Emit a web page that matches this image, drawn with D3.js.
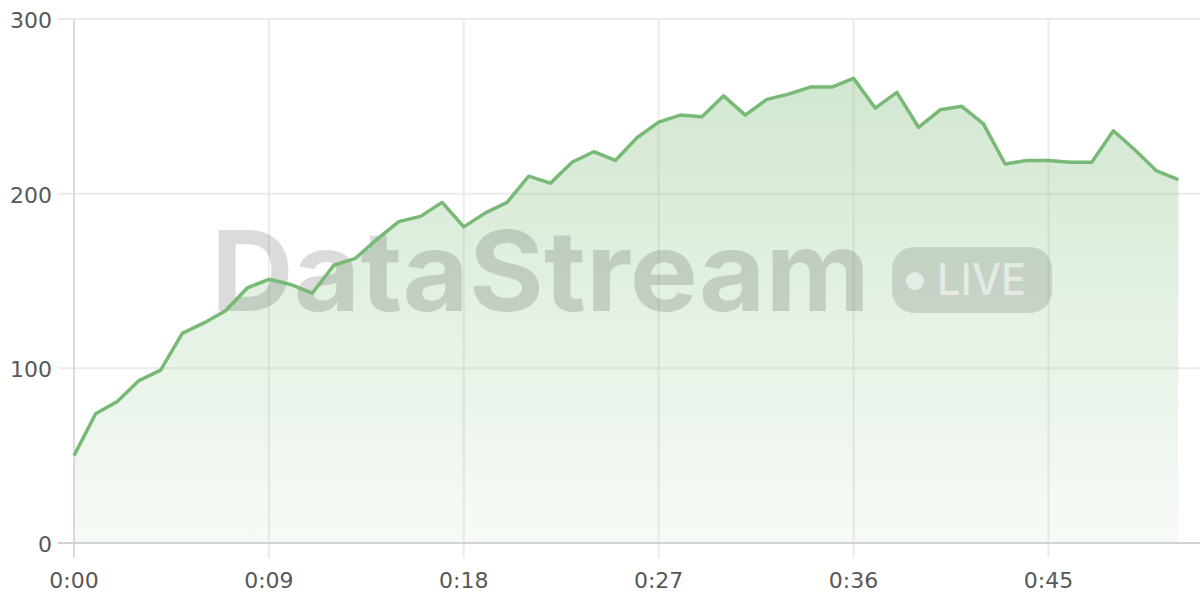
<!DOCTYPE html>
<html>
<head>
<meta charset="utf-8">
<script src="https://cdn.jsdelivr.net/npm/d3@7"></script>
<style>
  body { margin: 0; background: #fff; }
  svg { display: block; }
  .tick-label { font-family: "DejaVu Sans", sans-serif; font-size: 22px; fill: #585858; }
</style>
</head>
<body>
<div id="chart"></div>
<script>
let totalWidth = 1200
let totalHeight = 600
let margin = {top: 19, right: 0, bottom: 57, left: 74}

// seconds since start, one reading per second
let seconds = d3.range(0, 52)
let values = [
    50, 74, 81, 93, 99, 120, 126, 133, 146, 151,
    148, 143, 159, 163, 174, 184, 187, 195, 181, 189,
    195, 210, 206, 218, 224, 219, 232, 241, 245, 244,
    256, 245, 254, 257, 261, 261, 266, 249, 258, 238,
    248, 250, 240, 217, 219, 219, 218, 218, 236, 225,
    213, 208
]
let xTicks = [0, 9, 18, 27, 36, 45]
let yTicks = [0, 100, 200, 300]

let data = seconds.map((s, i) => ({t: s, v: values[i]}))

let svg = d3.select("#chart").append("svg")
    .attr("width", totalWidth)
    .attr("height", totalHeight)

const xScale = d3.scaleLinear()
    .domain([0, 52])
    .range([margin.left, totalWidth - margin.right])

const yScale = d3.scaleLinear()
    .domain([0, 300])
    .range([totalHeight - margin.bottom, margin.top])

let bottom = yScale(0)

// gradient for the area fill
let defs = svg.append("defs")
let grad = defs.append("linearGradient")
    .attr("id", "areaFill")
    .attr("x1", 0).attr("y1", 0).attr("x2", 0).attr("y2", 1)
grad.append("stop").attr("offset", "0%").attr("stop-color", "#7cbb79").attr("stop-opacity", 0.35)
grad.append("stop").attr("offset", "100%").attr("stop-color", "#7cbb79").attr("stop-opacity", 0.06)

// horizontal grid
svg.append("g")
    .selectAll("line")
    .data(yTicks)
    .enter()
    .append("line")
    .attr("x1", margin.left - 16)
    .attr("x2", totalWidth)
    .attr("y1", d => yScale(d))
    .attr("y2", d => yScale(d))
    .attr("stroke", "#ebebeb")
    .attr("stroke-width", 2)

// vertical grid
svg.append("g")
    .selectAll("line")
    .data(xTicks)
    .enter()
    .append("line")
    .attr("x1", d => xScale(d))
    .attr("x2", d => xScale(d))
    .attr("y1", margin.top)
    .attr("y2", bottom + 15)
    .attr("stroke", "#ebebeb")
    .attr("stroke-width", 2)

// y axis line
svg.append("line")
    .attr("x1", margin.left).attr("x2", margin.left)
    .attr("y1", margin.top).attr("y2", bottom + 15)
    .attr("stroke", "#dcdcdc")
    .attr("stroke-width", 2)

let area = d3.area()
    .x(d => xScale(d.t))
    .y0(bottom)
    .y1(d => yScale(d.v))

svg.append("path")
    .datum(data)
    .attr("fill", "url(#areaFill)")
    .attr("d", area)

// x axis line
svg.append("line")
    .attr("x1", margin.left - 16).attr("x2", totalWidth)
    .attr("y1", bottom).attr("y2", bottom)
    .attr("stroke", "#d2d2d2")
    .attr("stroke-width", 2)

// watermark
let wm = svg.append("g").attr("class", "watermark")
wm.append("text")
    .attr("x", 211)
    .attr("y", 311)
    .attr("textLength", 659)
    .attr("lengthAdjust", "spacingAndGlyphs")
    .style("font-family", "Inter, 'Noto Sans', sans-serif")
    .style("font-weight", 700)
    .style("font-size", "111px")
    .attr("fill", "rgba(0,0,0,0.14)")
    .text("DataStream")

wm.append("rect")
    .attr("x", 892).attr("y", 247)
    .attr("width", 160).attr("height", 66)
    .attr("rx", 22)
    .attr("fill", "rgba(0,0,0,0.12)")
wm.append("circle")
    .attr("cx", 915).attr("cy", 281).attr("r", 9)
    .attr("fill", "rgba(255,255,255,0.55)")
wm.append("text")
    .attr("x", 937)
    .attr("y", 295)
    .attr("textLength", 89)
    .attr("lengthAdjust", "spacingAndGlyphs")
    .style("font-family", "Inter, 'Noto Sans', sans-serif")
    .style("font-weight", 500)
    .style("font-size", "44px")
    .attr("fill", "rgba(255,255,255,0.55)")
    .text("LIVE")

let line = d3.line()
    .x(d => xScale(d.t))
    .y(d => yScale(d.v))

svg.append("path")
    .datum(data)
    .attr("fill", "none")
    .attr("stroke", "#78b976")
    .attr("stroke-width", 3.5)
    .attr("stroke-linejoin", "round")
    .attr("d", line)

// tick labels
svg.append("g")
    .selectAll("text")
    .data(yTicks)
    .enter()
    .append("text")
    .attr("class", "tick-label")
    .attr("x", 52)
    .attr("y", d => yScale(d) + 9)
    .attr("text-anchor", "end")
    .text(d => d)

svg.append("g")
    .selectAll("text")
    .data(xTicks)
    .enter()
    .append("text")
    .attr("class", "tick-label")
    .attr("x", d => xScale(d))
    .attr("y", 588)
    .attr("text-anchor", "middle")
    .text(d => "0:" + String(d).padStart(2, "0"))
</script>
</body>
</html>
